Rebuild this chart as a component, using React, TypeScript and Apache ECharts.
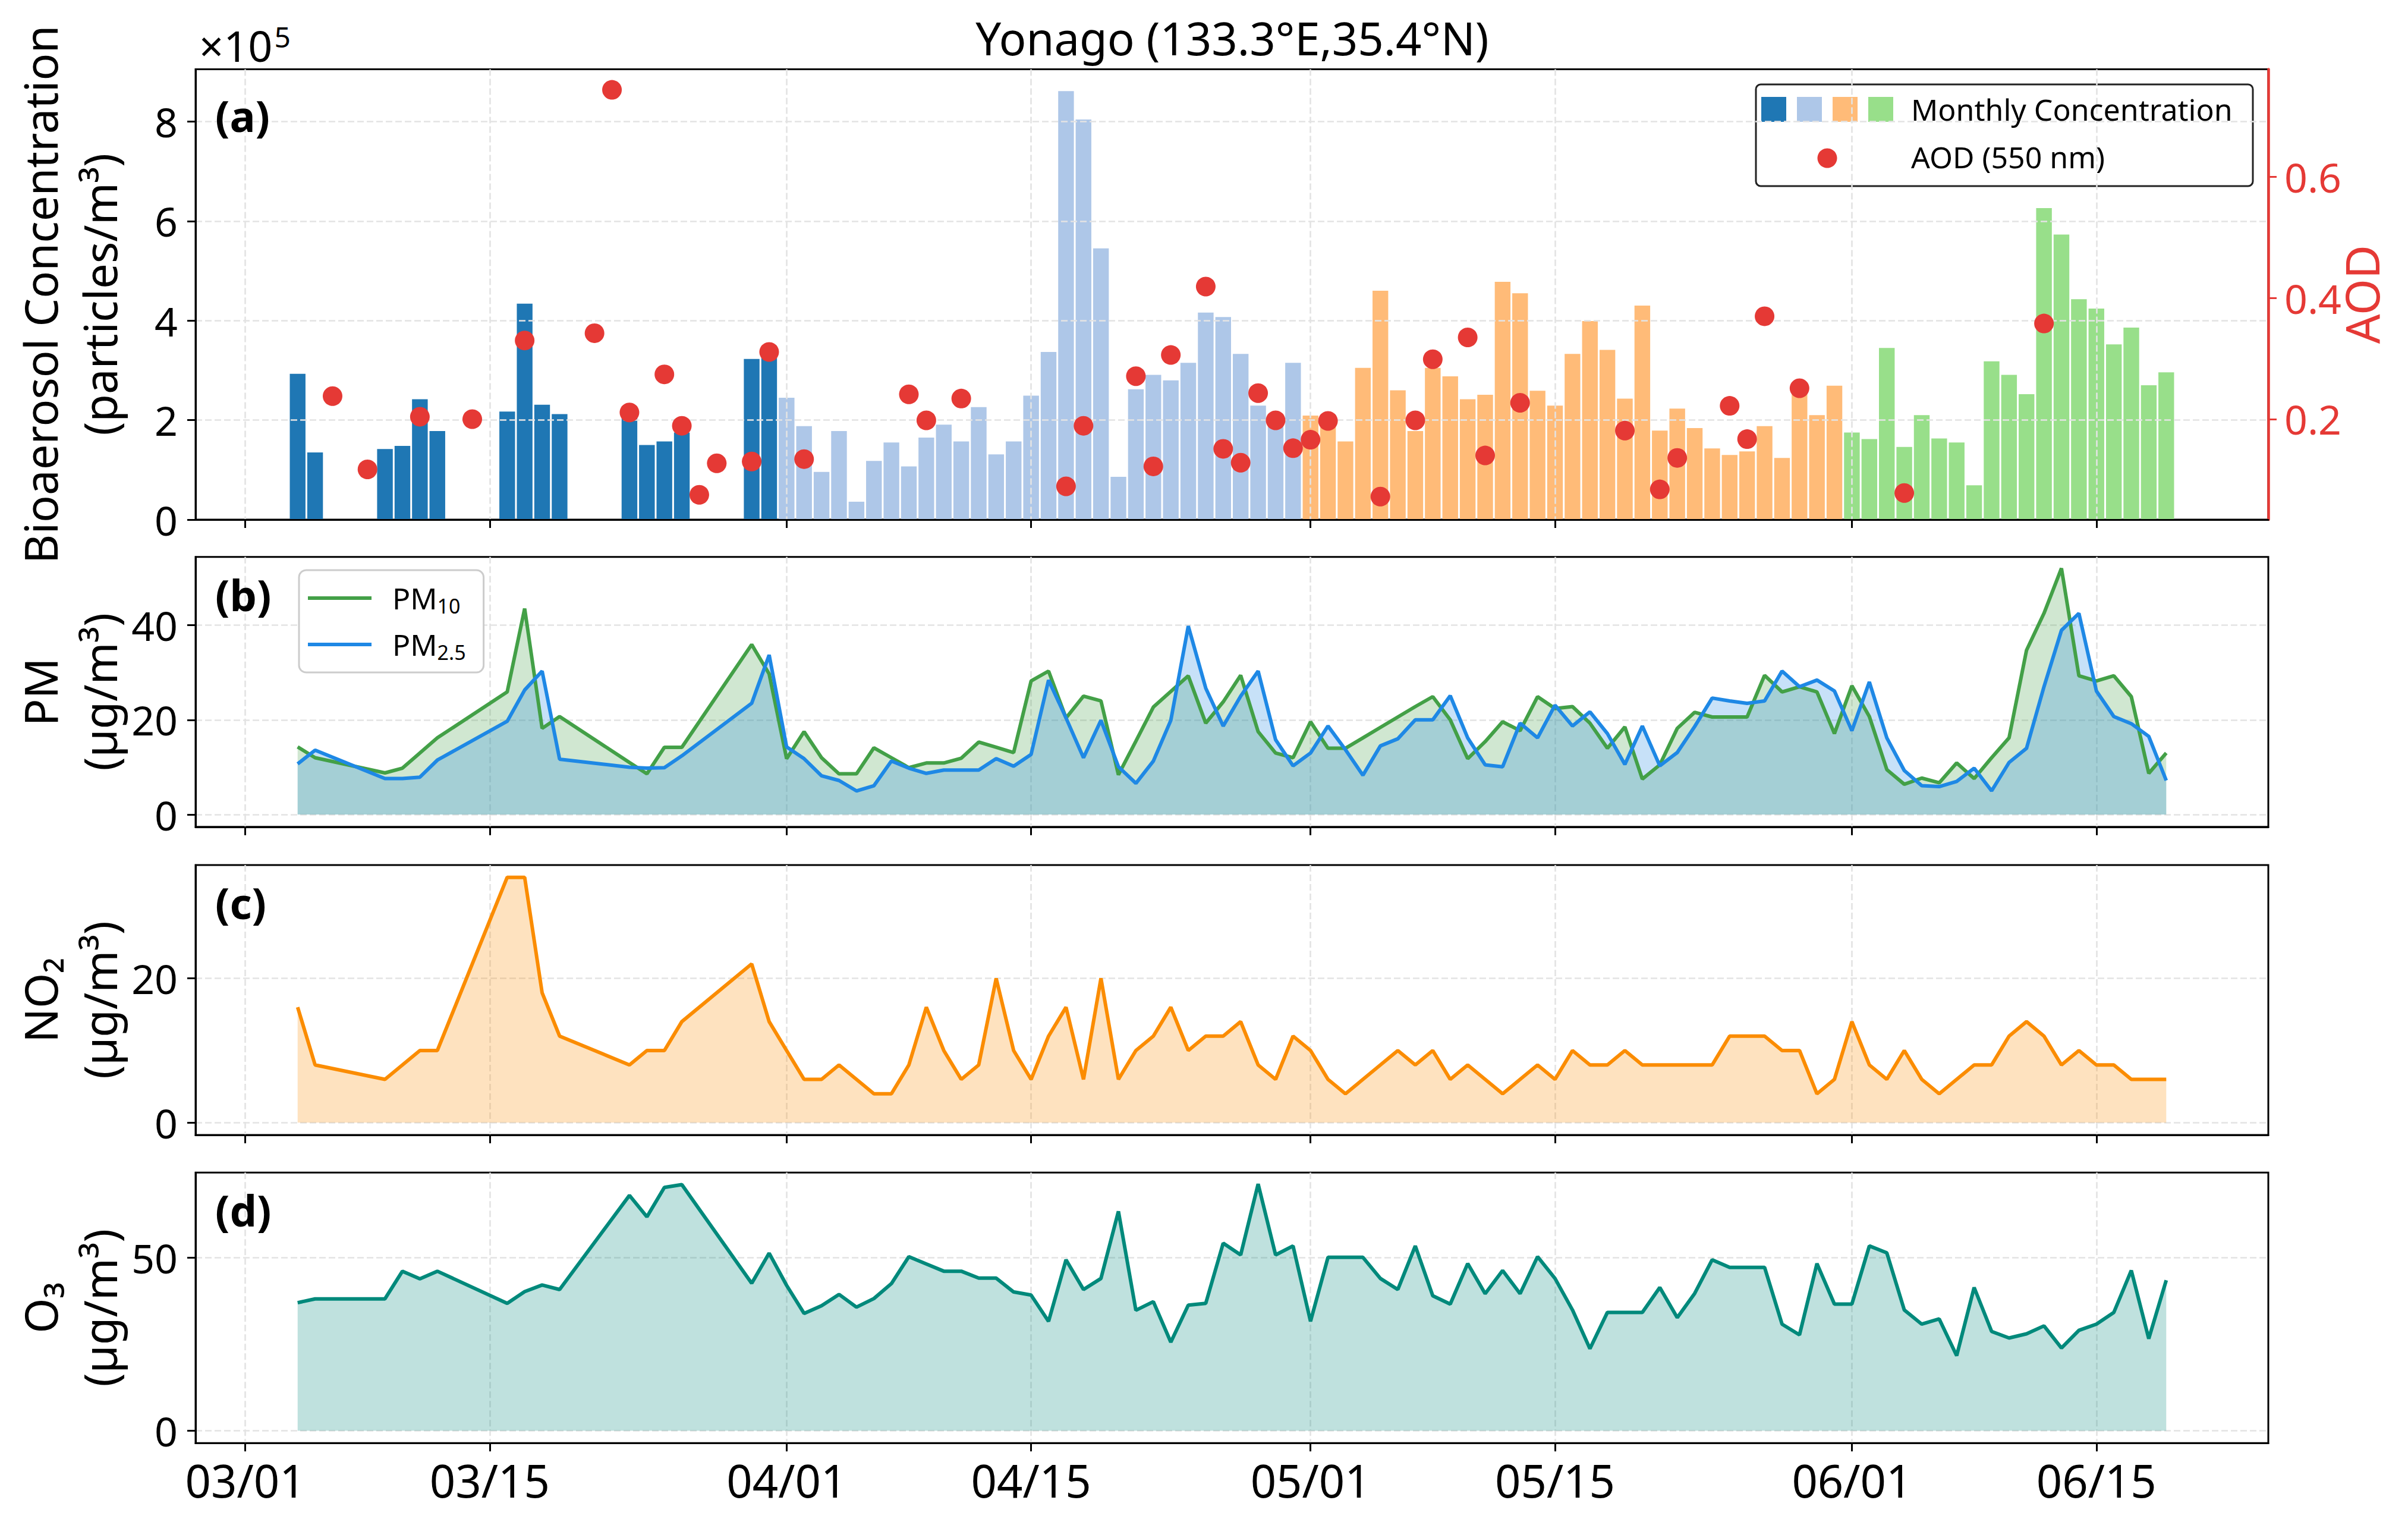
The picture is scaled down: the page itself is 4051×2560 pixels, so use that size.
import React, { useEffect, useRef } from 'react';
import * as echarts from 'echarts';

const FONT = '"Noto Sans", "DejaVu Sans", sans-serif';
const RED = '#e53935';

// sampling days, shared by every panel
const dates = [
  '03/04', '03/05', '03/09', '03/10', '03/11', '03/12', '03/16', '03/17', '03/18', '03/19', '03/23', '03/24', '03/25', '03/26', '03/30', '03/31',
  '04/01', '04/02', '04/03', '04/04', '04/05', '04/06', '04/07', '04/08', '04/09', '04/10', '04/11', '04/12', '04/13', '04/14', '04/15',
  '04/16', '04/17', '04/18', '04/19', '04/20', '04/21', '04/22', '04/23', '04/24', '04/25', '04/26', '04/27', '04/28', '04/29', '04/30',
  '05/01', '05/02', '05/03', '05/04', '05/05', '05/06', '05/07', '05/08', '05/09', '05/10', '05/11', '05/12', '05/13', '05/14', '05/15',
  '05/16', '05/17', '05/18', '05/19', '05/20', '05/21', '05/22', '05/23', '05/24', '05/25', '05/26', '05/27', '05/28', '05/29', '05/30', '05/31',
  '06/01', '06/02', '06/03', '06/04', '06/05', '06/06', '06/07', '06/08', '06/09', '06/10', '06/11', '06/12', '06/13', '06/14', '06/15',
  '06/16', '06/17', '06/18', '06/19',
];

// bioaerosol concentration, x10^5 particles/m3
const bioValues = [
  2.93, 1.35, 1.42, 1.48, 2.42, 1.78, 2.17, 4.34, 2.31, 2.12, 2.10, 1.50, 1.57, 1.75, 3.23, 3.28,
  2.45, 1.88, 0.96, 1.78, 0.36, 1.18, 1.55, 1.07, 1.65, 1.91, 1.57, 2.26, 1.31, 1.57, 2.49,
  3.37, 8.61, 8.04, 5.45, 0.86, 2.62, 2.91, 2.80, 3.15, 4.16, 4.07, 3.33, 2.29, 2.05, 3.15,
  2.09, 2.10, 1.57, 3.05, 4.60, 2.60, 1.78, 3.05, 2.88, 2.42, 2.51, 4.78, 4.55, 2.59, 2.29,
  3.33, 3.99, 3.41, 2.43, 4.30, 1.79, 2.23, 1.84, 1.43, 1.30, 1.37, 1.88, 1.24, 2.55, 2.10, 2.69,
  1.75, 1.62, 3.45, 1.46, 2.10, 1.63, 1.55, 0.69, 3.18, 2.91, 2.52, 6.26, 5.73, 4.43, 4.24,
  3.52, 3.86, 2.70, 2.96,
];

const aodDates = [
  '03/06', '03/08', '03/11', '03/14', '03/17', '03/21', '03/22', '03/23', '03/25', '03/26', '03/27', '03/28', '03/30', '03/31',
  '04/02', '04/08', '04/09', '04/11', '04/17', '04/18', '04/21', '04/22', '04/23', '04/25', '04/26', '04/27', '04/28', '04/29', '04/30',
  '05/01', '05/02', '05/05', '05/07', '05/08', '05/10', '05/11', '05/13', '05/19', '05/21', '05/22', '05/25', '05/26', '05/27', '05/29',
  '06/04', '06/12',
];
const aodValues = [
  0.238, 0.117, 0.204, 0.200, 0.330, 0.342, 0.744, 0.211, 0.274, 0.189, 0.075, 0.127, 0.130, 0.311,
  0.134, 0.241, 0.198, 0.234, 0.089, 0.189, 0.271, 0.122, 0.306, 0.419, 0.151, 0.128, 0.243, 0.198, 0.152,
  0.166, 0.197, 0.072, 0.198, 0.299, 0.335, 0.140, 0.227, 0.181, 0.084, 0.136, 0.222, 0.167, 0.370, 0.251,
  0.078, 0.358,
];

const pm10Values = [
  14.3, 12.0, 8.8, 9.8, 13.0, 16.2, 25.9, 43.5, 18.2, 20.7, 11.0, 8.6, 14.2, 14.2, 35.9, 29.7,
  11.8, 17.5, 12.0, 8.6, 8.6, 14.1, 12.0, 9.9, 10.9, 10.9, 11.9, 15.3, 14.2, 13.1, 28.2,
  30.3, 20.4, 25.0, 24.0, 8.4, 15.5, 22.7, 26.0, 29.3, 19.3, 23.8, 29.4, 17.5, 13.0, 12.0,
  19.6, 14.0, 14.0, 16.2, 18.4, 20.6, 22.8, 24.9, 20.0, 11.8, 15.4, 19.6, 17.7, 24.9, 22.4,
  22.8, 19.3, 14.0, 18.5, 7.5, 10.5, 18.2, 21.6, 20.6, 20.6, 20.6, 29.4, 25.9, 27.0, 25.9, 17.1,
  27.2, 20.7, 9.5, 6.4, 7.7, 6.7, 10.9, 7.6, 12.0, 16.2, 34.7, 42.5, 52.0, 29.3, 28.2,
  29.3, 24.9, 8.7, 13.0,
];

const pm25Values = [
  10.7, 13.6, 7.6, 7.6, 7.9, 11.5, 19.7, 26.3, 30.3, 11.7, 10.0, 9.8, 9.9, 12.4, 23.5, 33.7,
  14.3, 11.8, 8.2, 7.2, 5.0, 6.1, 11.3, 9.8, 8.7, 9.4, 9.4, 9.4, 11.8, 10.2, 12.7,
  28.4, 20.4, 12.0, 19.9, 10.1, 6.6, 11.3, 19.9, 39.8, 26.7, 18.7, 25.0, 30.3, 15.8, 10.3,
  13.0, 18.7, 13.7, 8.3, 14.5, 16.0, 20.0, 20.0, 25.1, 16.2, 10.5, 10.1, 19.3, 16.2, 23.1,
  18.7, 21.7, 17.1, 10.6, 18.7, 10.3, 13.1, 18.6, 24.6, 24.0, 23.5, 24.0, 30.3, 27.0, 28.4, 26.1,
  17.7, 28.0, 16.2, 9.3, 6.1, 5.9, 7.0, 9.8, 5.0, 11.0, 14.0, 27.0, 38.9, 42.5, 26.1,
  20.7, 19.2, 16.5, 7.2,
];

const no2Values = [
  16, 8, 6, 8, 10, 10, 34, 34, 18, 12, 8, 10, 10, 14, 22, 14,
  10, 6, 6, 8, 6, 4, 4, 8, 16, 10, 6, 8, 20, 10, 6,
  12, 16, 6, 20, 6, 10, 12, 16, 10, 12, 12, 14, 8, 6, 12,
  10, 6, 4, 6, 8, 10, 8, 10, 6, 8, 6, 4, 6, 8, 6,
  10, 8, 8, 10, 8, 8, 8, 8, 8, 12, 12, 12, 10, 10, 4, 6,
  14, 8, 6, 10, 6, 4, 6, 8, 8, 12, 14, 12, 8, 10, 8,
  8, 6, 6, 6,
];

const o3Values = [
  37.0, 38.1, 38.1, 46.1, 43.9, 46.1, 36.8, 40.2, 42.1, 40.8, 68.0, 61.8, 70.3, 71.1, 42.6, 51.3,
  42.0, 33.9, 36.1, 39.4, 35.7, 38.2, 42.5, 50.3, 48.2, 46.1, 46.1, 44.1, 44.1, 40.1, 39.2,
  31.6, 49.4, 40.8, 44.0, 63.4, 34.8, 37.3, 25.6, 36.3, 36.8, 54.2, 50.8, 71.3, 50.8, 53.4,
  31.6, 50.1, 50.1, 50.1, 44.0, 40.8, 53.4, 39.0, 36.6, 48.3, 39.6, 46.3, 39.6, 50.3, 44.0,
  34.9, 23.7, 34.2, 34.2, 34.2, 41.4, 32.7, 39.7, 49.4, 47.2, 47.2, 47.2, 30.8, 27.7, 48.3, 36.6,
  36.6, 53.4, 51.4, 34.9, 30.8, 32.3, 21.7, 41.4, 28.7, 26.8, 28.0, 30.3, 23.9, 29.0, 30.8,
  34.2, 46.3, 26.6, 43.5,
];

const tickDates = ['03/01', '03/15', '04/01', '04/15', '05/01', '05/15', '06/01', '06/15'];
const months = ['03', '04', '05', '06'];
const monthNames = ['March', 'April', 'May', 'June'];
const monthColors = ['#1f77b4', '#aec7e8', '#ffbb78', '#98df8a'];

const monthStart: Record<number, number> = { 3: 0, 4: 31, 5: 61, 6: 92 };
const dayOf = (d: string) => {
  const [m, dd] = d.split('/').map(Number);
  return monthStart[m] + dd - 1;
};
const pairs = (ds: string[], vs: number[]) => ds.map((d, i) => [dayOf(d), vs[i]]);
const tickDays = tickDates.map(dayOf);

const X_MIN = -2.845;
const X_MAX = 115.845;
const LEFT = 329;
const RIGHT = 4051 - 3816;
const panels = [
  { top: 116.5, height: 757.5 },
  { top: 936.8, height: 454 },
  { top: 1455, height: 454 },
  { top: 1972.2, height: 455 },
];

const LINE_W = 6;
const black = { color: '#000', width: 3 };
const gridLine = { show: true, lineStyle: { color: '#e3e3e3', width: 2.6, type: [11, 5] } };

function leftAxis(i: number, min: number, max: number, ticks: number[], name: string) {
  return {
    type: 'value', gridIndex: i, position: 'left', min, max, z: 3,
    axisLine: { show: true, onZero: false, lineStyle: black },
    axisTick: { show: true, customValues: ticks, length: 14, lineStyle: black },
    axisLabel: { customValues: ticks, margin: 30, fontSize: 68, color: '#000', fontFamily: FONT },
    splitLine: gridLine,
    name, nameLocation: 'middle', nameGap: 112, nameRotate: 90, nameMoveOverlap: false,
    nameTextStyle: { fontSize: 76, lineHeight: 100, color: '#000', fontFamily: FONT },
  };
}

function lineSeries(name: string, i: number, yi: number, values: number[], color: string) {
  return {
    name, type: 'line', xAxisIndex: i, yAxisIndex: yi, data: pairs(dates, values),
    symbol: 'none', z: 4,
    lineStyle: { color, width: LINE_W }, itemStyle: { color },
    areaStyle: { color, opacity: 0.25 },
  };
}

function buildOption() {
  const grids = panels.map((p) => ({
    left: LEFT, right: RIGHT, top: p.top, height: p.height,
    show: true, borderColor: '#000', borderWidth: 3, backgroundColor: 'transparent',
    containLabel: false, outerBoundsMode: 'none',
  }));

  const xAxes = panels.map((_, i) => ({
    type: 'value', gridIndex: i, min: X_MIN, max: X_MAX, z: 3,
    axisLine: { show: true, onZero: false, lineStyle: black },
    axisTick: { show: true, customValues: tickDays, length: 14, lineStyle: black },
    axisLabel: {
      show: i === 3, customValues: tickDays, margin: 24, fontSize: 76, color: '#000', fontFamily: FONT,
      formatter: (v: number) => tickDates[tickDays.indexOf(Math.round(v))] ?? '',
    },
    splitLine: gridLine,
  }));

  const yAxes = [
    leftAxis(0, 0, 9.05, [0, 2, 4, 6, 8], 'Bioaerosol Concentration\n(particles/m³)'),
    {
      type: 'value', gridIndex: 0, position: 'right', min: 0.034, max: 0.778, z: 3,
      axisLine: { show: true, onZero: false, lineStyle: { color: RED, width: 4.5 } },
      axisTick: { show: true, customValues: [0.2, 0.4, 0.6], length: 14, lineStyle: { color: RED, width: 3 } },
      axisLabel: {
        customValues: [0.2, 0.4, 0.6], margin: 27, fontSize: 68, color: RED, fontFamily: FONT,
        formatter: (v: number) => v.toFixed(1),
      },
      splitLine: { show: false },
      name: 'AOD', nameLocation: 'middle', nameGap: 118, nameRotate: 90, nameMoveOverlap: false,
      nameTextStyle: { fontSize: 78, color: RED, fontFamily: FONT },
    },
    leftAxis(1, -2.6, 54.4, [0, 20, 40], 'PM\n(µg/m³)'),
    leftAxis(2, -1.7, 35.7, [0, 20], 'NO₂\n(µg/m³)'),
    leftAxis(3, -3.55, 74.6, [0, 50], 'O₃\n(µg/m³)'),
  ];

  const barSeries = months.map((m, k) => {
    const idx = dates.map((d, i) => (d.startsWith(m) ? i : -1)).filter((i) => i >= 0);
    return {
      name: monthNames[k], type: 'bar', xAxisIndex: 0, yAxisIndex: 0,
      data: pairs(idx.map((i) => dates[i]), idx.map((i) => bioValues[i])),
      barWidth: 26.4, barGap: '-100%', z: 2,
      itemStyle: { color: monthColors[k] },
    };
  });

  const series = [
    ...barSeries,
    {
      name: 'AOD (550 nm)', type: 'scatter', xAxisIndex: 0, yAxisIndex: 1,
      data: pairs(aodDates, aodValues), symbolSize: 33, z: 5,
      itemStyle: { color: RED, opacity: 1 },
    },
    lineSeries('PM10', 1, 2, pm10Values, '#43a047'),
    lineSeries('PM2.5', 1, 2, pm25Values, '#1e88e5'),
    lineSeries('NO2', 2, 3, no2Values, '#fb8c00'),
    lineSeries('O3', 3, 4, o3Values, '#00897b'),
  ];

  const txt = (text: string, x: number, y: number, size: number, extra: any = {}) => ({
    type: 'text', x, y, silent: true, z: 10,
    style: {
      text, fontSize: size, fontFamily: FONT, fill: '#000',
      align: 'left', textAlign: 'left', verticalAlign: 'middle', textVerticalAlign: 'middle',
      ...extra,
    },
  });

  const panelLabels = ['(a)', '(b)', '(c)', '(d)'].map((t, i) =>
    txt(t, 362, panels[i].top + 0.05 * panels[i].height + 40, 72, { fontWeight: 'bold' })
  );

  const legendA = {
    type: 'group', silent: true, z: 10,
    children: [
      {
        type: 'rect', shape: { x: 2954, y: 142, width: 836, height: 171, r: 8 },
        style: { fill: '#fff', stroke: '#222', lineWidth: 3 },
      },
      ...monthColors.map((c, k) => ({
        type: 'rect', shape: { x: 2963 + k * 60, y: 163, width: 42, height: 42 },
        style: { fill: c },
      })),
      { type: 'circle', shape: { cx: 3074, cy: 266, r: 16.5 }, style: { fill: RED } },
      txt('Monthly Concentration', 3215, 184, 50),
      txt('AOD (550 nm)', 3215, 264, 50),
    ],
  };

  return {
    animation: false,
    backgroundColor: '#fff',
    textStyle: { fontFamily: FONT },
    grid: grids,
    xAxis: xAxes,
    yAxis: yAxes,
    legend: {
      data: ['PM10', 'PM2.5'],
      orient: 'vertical', left: 503, top: 959,
      padding: [17, 30, 17, 15], itemGap: 18, itemWidth: 107, itemHeight: LINE_W,
      icon: 'rect',
      backgroundColor: '#fff', borderColor: '#cccccc', borderWidth: 3, borderRadius: 12,
      formatter: (n: string) => (n === 'PM10' ? 'PM{s|10}' : 'PM{s|2.5}'),
      textStyle: {
        fontSize: 50, color: '#000', fontFamily: FONT, padding: [0, 0, 0, 30], lineHeight: 60,
        rich: { s: { fontSize: 34, fontFamily: FONT, color: '#000', verticalAlign: 'bottom', lineHeight: 60, padding: [18, 0, 0, 0] } },
      },
    },
    series,
    graphic: [
      txt('Yonago (133.3°E,35.4°N)', 2073, 63, 76, { align: 'center', textAlign: 'center' }),
      txt('×10{sup|5}', 335, 76, 72, {
        rich: { sup: { fontSize: 48, fontFamily: FONT, fill: '#000', verticalAlign: 'bottom', padding: [0, 0, 30, 3] } },
      }),
      ...panelLabels,
      legendA,
    ],
  };
}

export default function App() {
  const chartRef = useRef<HTMLDivElement>(null);

  useEffect(() => {
    if (!chartRef.current) return;
    const chart = echarts.init(chartRef.current, null, { renderer: 'svg' });
    chart.setOption(buildOption() as any);
    return () => {
      chart.dispose();
    };
  }, []);

  return (
    <div
      ref={chartRef}
      style={{ position: 'absolute', left: 0, top: 0, width: 4051, height: 2560, background: '#fff' }}
    />
  );
}
